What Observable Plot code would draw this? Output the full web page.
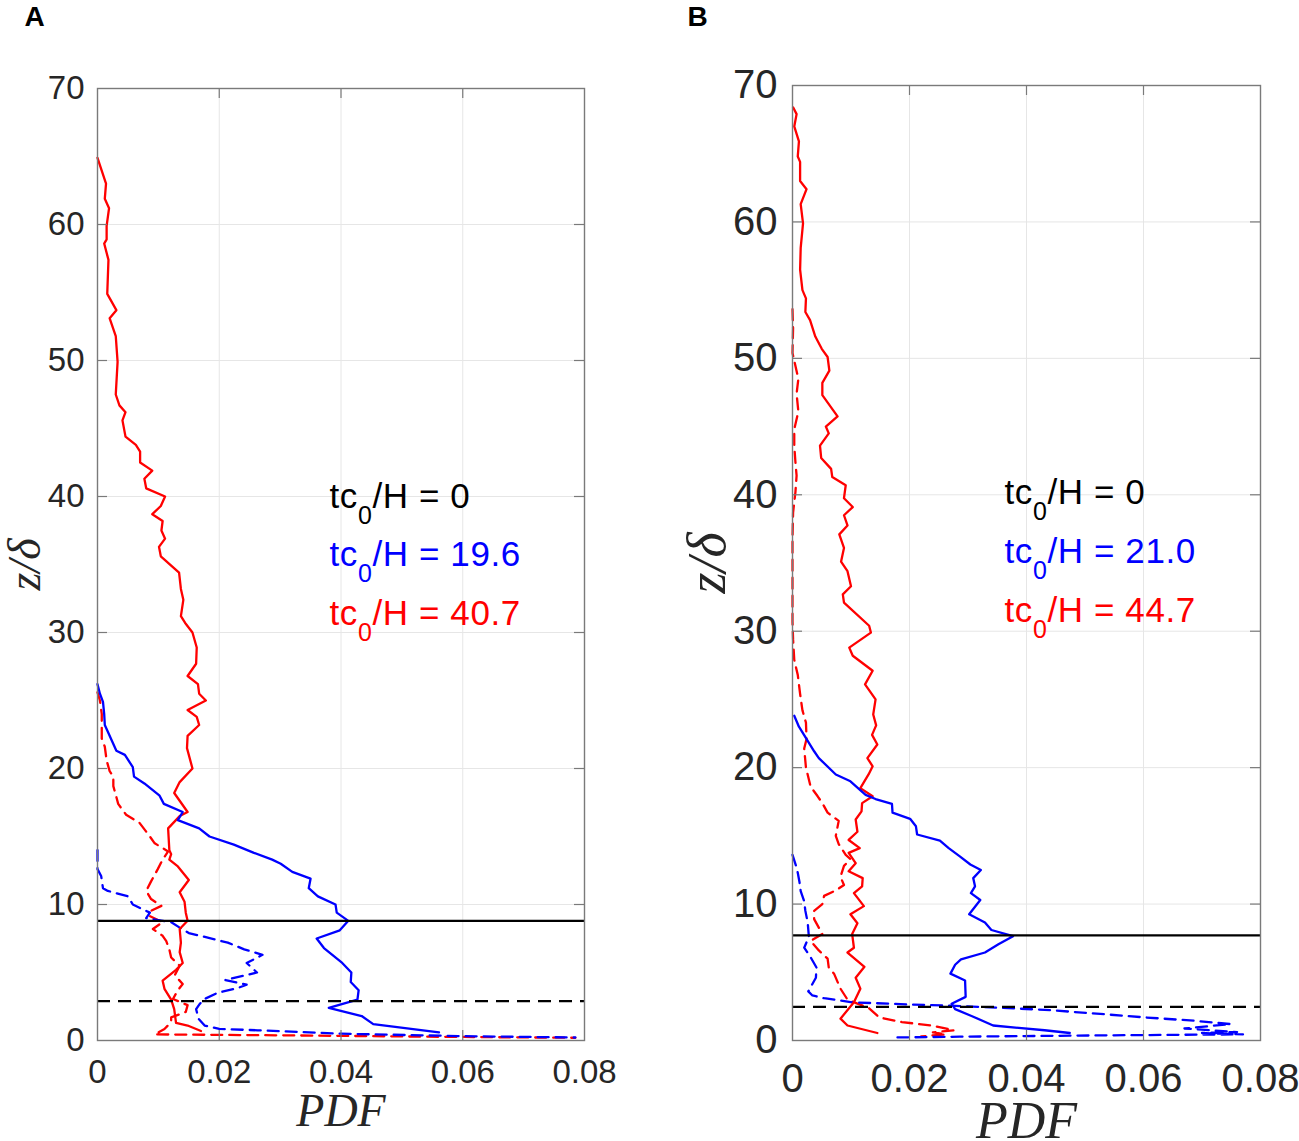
<!DOCTYPE html>
<html><head><meta charset="utf-8">
<script src="https://cdn.jsdelivr.net/npm/d3@7"></script>
<script src="https://cdn.jsdelivr.net/npm/@observablehq/plot@0.6"></script>
<style>
body{margin:0;background:#fff;}
#wrap{position:relative;width:1299px;height:1141px;overflow:hidden;background:#fff;}
#wrap svg{position:absolute;top:0;}
</style></head><body><div id="wrap"></div>
<script>
// ---- axes ----
const xTicks = [0, 0.02, 0.04, 0.06, 0.08];
const xTickLabels = ["0", "0.02", "0.04", "0.06", "0.08"];
const yTicks = [0, 10, 20, 30, 40, 50, 60, 70];
const yTickLabels = ["0", "10", "20", "30", "40", "50", "60", "70"];

// ---- panel A : [PDF, z/delta] ----
const aRedSolid = [[0.0000,64.9],[0.0014,63.0],[0.0012,61.9],[0.0019,61.2],[0.0015,59.9],[0.0015,58.9],[0.0011,58.6],[0.0018,57.4],[0.0016,54.9],[0.0031,53.7],[0.0020,53.1],[0.0030,51.8],[0.0033,49.9],[0.0030,47.5],[0.0036,46.7],[0.0046,46.2],[0.0041,45.6],[0.0046,44.4],[0.0063,43.8],[0.0070,43.3],[0.0070,42.5],[0.0090,41.9],[0.0077,41.3],[0.0080,40.6],[0.0111,40.0],[0.0104,39.3],[0.0090,38.7],[0.0107,38.2],[0.0105,37.5],[0.0111,36.9],[0.0101,36.3],[0.0104,35.6],[0.0134,34.4],[0.0137,33.2],[0.0141,32.4],[0.0137,31.2],[0.0144,30.7],[0.0156,30.0],[0.0163,28.9],[0.0162,27.7],[0.0148,26.8],[0.0165,26.2],[0.0167,25.5],[0.0178,25.0],[0.0148,24.3],[0.0163,23.8],[0.0167,23.2],[0.0148,22.4],[0.0147,21.5],[0.0156,20.0],[0.0135,19.0],[0.0126,18.2],[0.0148,16.8],[0.0135,16.5],[0.0116,15.6],[0.0118,14.0],[0.0121,13.7],[0.0118,13.3],[0.0132,12.8],[0.0150,11.8],[0.0135,10.9],[0.0143,10.2],[0.0145,9.4],[0.0148,8.8],[0.0135,8.2],[0.0137,7.2],[0.0135,6.5],[0.0140,5.7],[0.0129,5.2],[0.0107,4.4],[0.0110,3.8],[0.0121,3.0],[0.0126,2.3],[0.0129,1.3],[0.0148,1.1],[0.0170,0.7]];
const aRedDashed = [[0.0000,25.6],[0.0004,25.0],[0.0007,24.0],[0.0007,23.2],[0.0007,22.2],[0.0012,21.6],[0.0015,20.6],[0.0020,19.8],[0.0026,19.4],[0.0026,18.7],[0.0031,17.9],[0.0034,17.4],[0.0047,16.6],[0.0069,16.0],[0.0086,15.0],[0.0094,14.5],[0.0107,14.15],[0.0116,13.9],[0.0107,13.3],[0.0099,12.6],[0.0088,11.7],[0.0080,11.0],[0.0088,10.4],[0.0105,9.9],[0.0086,9.5],[0.0086,9.15],[0.0107,8.7],[0.0091,8.2],[0.0107,7.7],[0.0113,7.3],[0.0118,6.7],[0.0121,6.1],[0.0135,5.5],[0.0127,4.8],[0.0140,4.15],[0.0132,3.7],[0.0124,3.05],[0.0148,2.6],[0.0145,2.1],[0.0121,1.7],[0.0121,1.35],[0.0110,0.85],[0.0094,0.45],[0.0300,0.38],[0.0600,0.26],[0.0785,0.2]];
const aBlueSolid = [[0.0000,26.2],[0.0004,25.5],[0.0009,24.9],[0.0011,24.0],[0.0012,23.2],[0.0031,21.3],[0.0045,21.0],[0.0058,20.1],[0.0060,19.4],[0.0077,18.9],[0.0102,18.0],[0.0109,17.4],[0.0140,16.8],[0.0132,16.2],[0.0167,15.6],[0.0184,15.0],[0.0224,14.4],[0.0257,13.8],[0.0287,13.3],[0.0301,13.0],[0.0320,12.4],[0.0350,11.9],[0.0347,11.2],[0.0362,10.6],[0.0391,10.0],[0.0393,9.4],[0.0412,8.8],[0.0398,8.1],[0.0360,7.5],[0.0372,6.8],[0.0402,5.7],[0.0417,5.0],[0.0416,4.3],[0.0429,3.7],[0.0427,3.0],[0.0380,2.4],[0.0434,1.8],[0.0453,1.2],[0.0561,0.6]];
const aBlueDashed = [[0.0000,14.0],[0.0000,12.6],[0.0006,12.1],[0.0009,11.2],[0.0017,11.0],[0.0050,10.6],[0.0058,10.0],[0.0086,9.4],[0.0080,9.0],[0.0121,8.7],[0.0135,8.3],[0.0150,7.9],[0.0214,7.2],[0.0241,6.7],[0.0271,6.3],[0.0245,5.7],[0.0262,5.0],[0.0210,4.45],[0.0245,4.1],[0.0230,3.85],[0.0197,3.5],[0.0178,3.1],[0.0168,2.7],[0.0162,2.3],[0.0166,1.6],[0.0176,1.1],[0.0200,0.85],[0.0263,0.75],[0.0400,0.5],[0.0600,0.32],[0.0785,0.22]];
const aSolidLevel = [8.8];
const aDashedLevel = [2.9];
const aLegend = ["tc_0/H = 0", "tc_0/H = 19.6", "tc_0/H = 40.7"];

// ---- panel B : [PDF, z/delta] ----
const bRedSolid = [[0.0001,68.4],[0.0007,67.9],[0.0003,67.0],[0.0011,65.9],[0.0009,64.8],[0.0013,64.4],[0.0013,63.0],[0.0024,62.4],[0.0014,61.3],[0.0018,59.9],[0.0014,58.1],[0.0013,56.5],[0.0017,55.0],[0.0023,54.4],[0.0022,53.4],[0.0030,52.8],[0.0039,51.6],[0.0050,50.7],[0.0060,50.1],[0.0063,49.1],[0.0051,48.2],[0.0051,47.3],[0.0077,45.75],[0.0057,45.0],[0.0062,44.5],[0.0047,43.6],[0.0049,42.7],[0.0066,41.9],[0.0068,41.3],[0.0091,40.7],[0.0088,39.75],[0.0103,39.1],[0.0088,38.5],[0.0094,37.75],[0.0080,37.1],[0.0088,36.1],[0.0083,35.1],[0.0094,34.4],[0.0100,33.3],[0.0086,32.7],[0.0088,32.1],[0.0131,30.4],[0.0134,29.9],[0.0097,28.8],[0.0103,28.2],[0.0137,27.1],[0.0124,26.1],[0.0142,25.0],[0.0138,23.9],[0.0143,23.1],[0.0136,22.4],[0.0145,21.7],[0.0128,20.7],[0.0137,20.1],[0.0130,19.5],[0.0116,18.5],[0.0137,17.9],[0.0119,17.4],[0.0118,16.8],[0.0108,16.2],[0.0111,15.3],[0.0096,14.7],[0.0115,14.1],[0.0096,13.75],[0.0108,13.0],[0.0096,12.4],[0.0120,11.9],[0.0119,11.3],[0.0105,10.8],[0.0122,9.85],[0.0099,9.25],[0.0111,8.6],[0.0102,7.8],[0.0105,6.8],[0.0094,6.45],[0.0123,5.4],[0.0108,4.6],[0.0116,3.8],[0.0105,2.8],[0.0082,1.6],[0.0094,1.1],[0.0145,0.55]];
const bRedDashed = [[0.0000,53.6],[0.0001,52.2],[0.0000,50.4],[0.0010,48.5],[0.0007,47.4],[0.0010,46.1],[0.0003,44.8],[0.0003,43.6],[0.0005,42.4],[0.0007,41.4],[0.0005,40.2],[0.0001,38.7],[0.0000,36.8],[0.0000,35.6],[0.0000,34.1],[0.0000,32.5],[0.0000,30.7],[0.0001,29.4],[0.0003,27.9],[0.0009,26.8],[0.0013,25.4],[0.0017,24.2],[0.0023,23.3],[0.0024,22.1],[0.0020,21.4],[0.0023,20.0],[0.0031,18.6],[0.0043,17.9],[0.0051,17.4],[0.0060,16.7],[0.0079,16.1],[0.0074,15.0],[0.0079,14.4],[0.0091,13.6],[0.0099,13.3],[0.0088,12.8],[0.0082,12.0],[0.0088,11.4],[0.0074,11.0],[0.0054,10.6],[0.0051,10.0],[0.0037,9.5],[0.0037,8.9],[0.0051,7.8],[0.0031,7.3],[0.0045,6.6],[0.0060,6.0],[0.0062,5.35],[0.0071,4.9],[0.0077,4.3],[0.0082,3.8],[0.0094,3.0],[0.0111,2.7],[0.0130,2.4],[0.0148,1.7],[0.0187,1.35],[0.0238,1.1],[0.0276,0.75],[0.0240,0.6],[0.0262,0.45],[0.0220,0.3]];
const bBlueSolid = [[0.0003,23.8],[0.0011,23.0],[0.0037,21.2],[0.0045,20.7],[0.0074,19.5],[0.0099,19.0],[0.0125,18.0],[0.0142,17.7],[0.0170,17.35],[0.0171,16.7],[0.0201,16.25],[0.0211,15.7],[0.0213,15.1],[0.0252,14.65],[0.0267,14.1],[0.0286,13.5],[0.0304,12.9],[0.0322,12.5],[0.0309,11.9],[0.0312,11.3],[0.0305,10.8],[0.0321,10.3],[0.0302,9.25],[0.0329,8.65],[0.0340,8.1],[0.0377,7.65],[0.0352,7.05],[0.0329,6.45],[0.0288,5.95],[0.0278,5.55],[0.0270,4.9],[0.0295,4.4],[0.0296,3.2],[0.0272,2.7],[0.0278,2.3],[0.0306,1.8],[0.0343,1.1],[0.0431,0.75],[0.0474,0.55]];
const bBlueDashed = [[0.0000,13.6],[0.0006,12.8],[0.0009,12.3],[0.0012,11.6],[0.0014,10.95],[0.0020,10.2],[0.0022,9.5],[0.0026,8.65],[0.0028,7.6],[0.0020,6.8],[0.0031,6.1],[0.0041,5.35],[0.0040,4.6],[0.0027,3.6],[0.0034,3.3],[0.0054,3.1],[0.0102,2.8],[0.0204,2.63],[0.0272,2.55],[0.0431,2.25],[0.0526,1.95],[0.0600,1.7],[0.0686,1.45],[0.0749,1.2],[0.0670,0.88],[0.0760,0.62],[0.0700,0.55],[0.0770,0.45],[0.0543,0.38],[0.0286,0.28],[0.0176,0.22]];
const bSolidLevel = [7.7];
const bDashedLevel = [2.47];
const bLegend = ["tc_0/H = 0", "tc_0/H = 21.0", "tc_0/H = 44.7"];

const legendColors = ["#000000", "#0000ff", "#ff0000"];
const RED = "#ff0000", BLUE = "#0000ff";
const AXC = "#262626", BOXC = "#7a7a7a", GRIDC = "#e6e6e6";

function makePanel(cfg) {
  const innerW = cfg.width - cfg.mL - cfg.mR;
  const innerH = cfg.height - cfg.mT - cfg.mB;
  const tl = 10;
  const xi = xTicks.slice(1, -1), yi = yTicks.slice(1, -1);
  const xy = {x: d => d[0], y: d => d[1]};
  const LW = 2.3;
  const marks = [
    Plot.ruleX(xi, {x: d => d, stroke: GRIDC, strokeWidth: 1}),
    Plot.ruleY(yi, {y: d => d, stroke: GRIDC, strokeWidth: 1}),
    Plot.line(cfg.redDashed, {...xy, stroke: RED, strokeWidth: LW, strokeDasharray: "11,7"}),
    Plot.line(cfg.blueDashed, {...xy, stroke: BLUE, strokeWidth: LW, strokeDasharray: "11,7"}),
    Plot.line(cfg.redSolid, {...xy, stroke: RED, strokeWidth: LW}),
    Plot.line(cfg.blueSolid, {...xy, stroke: BLUE, strokeWidth: LW}),
    Plot.ruleY(cfg.solidLevel, {y: d => d, stroke: "#000", strokeWidth: 2.2}),
    Plot.ruleY(cfg.dashedLevel, {y: d => d, stroke: "#000", strokeWidth: 2.2, strokeDasharray: "13,8"}),
    Plot.ruleX(xi, {x: d => d, insetTop: innerH - tl, stroke: BOXC, strokeWidth: 1.2}),
    Plot.ruleX(xi, {x: d => d, insetBottom: innerH - tl, stroke: BOXC, strokeWidth: 1.2}),
    Plot.ruleY(yi, {y: d => d, insetRight: innerW - tl, stroke: BOXC, strokeWidth: 1.2}),
    Plot.ruleY(yi, {y: d => d, insetLeft: innerW - tl, stroke: BOXC, strokeWidth: 1.2}),
    Plot.frame({stroke: BOXC, strokeWidth: 1.4}),
    Plot.axisX({ticks: xTicks, tickFormat: d => xTickLabels[xTicks.indexOf(d)], tickSize: 0, tickPadding: cfg.xPad, fontSize: cfg.tickFont, fontFamily: "Liberation Sans", color: AXC, label: null}),
    Plot.axisY({ticks: yTicks, tickFormat: d => yTickLabels[yTicks.indexOf(d)], tickSize: 0, tickPadding: cfg.yPad, fontSize: cfg.tickFont, fontFamily: "Liberation Sans", color: AXC, label: null}),
    Plot.text(["PDF"], {text: d => d, frameAnchor: "bottom", dy: cfg.pdfDy, textAnchor: "middle", lineAnchor: "middle", fontSize: cfg.pdfSize, fontStyle: "italic", fontFamily: "Liberation Serif", fill: AXC}),
    Plot.text(["z/δ"], {text: d => d, frameAnchor: "left", dx: cfg.zDx, rotate: -90, textAnchor: "middle", lineAnchor: "middle", fontSize: cfg.zSize, fontStyle: "italic", fontFamily: "Liberation Serif", fill: AXC}),
    Plot.text([cfg.letter], {text: d => d, frameAnchor: "top-left", dx: cfg.letterDx, dy: cfg.letterDy, textAnchor: "start", lineAnchor: "bottom", fontSize: 28, fontWeight: "bold", fontFamily: "Liberation Sans", fill: "#000"}),
    ...cfg.legend.map((s, i) => Plot.text([s], {text: d => d, frameAnchor: "top-left", dx: cfg.legDx, dy: cfg.legDy[i], textAnchor: "start", lineAnchor: "bottom", fontSize: 35, fontFamily: "Liberation Sans", fill: legendColors[i]}))
  ];
  const svg = Plot.plot({
    width: cfg.width, height: cfg.height,
    marginLeft: cfg.mL, marginRight: cfg.mR, marginTop: cfg.mT, marginBottom: cfg.mB,
    x: {domain: [0, 0.08]},
    y: {domain: [0, 70]},
    style: {background: "transparent", fontFamily: "Liberation Sans", overflow: "visible"},
    marks
  });
  // TeX-like subscript: "tc_0/H" -> tc with lowered 0
  svg.querySelectorAll("text").forEach(t => {
    const s = t.textContent;
    if (!s.includes("_")) return;
    const [pre, rest] = s.split("_");
    t.textContent = "";
    t.style.letterSpacing = "0.6px";
    const add = (txt, attrs) => {
      const ts = document.createElementNS("http://www.w3.org/2000/svg", "tspan");
      ts.textContent = txt;
      for (const k in attrs) ts.setAttribute(k, attrs[k]);
      t.appendChild(ts);
    };
    add(pre, {});
    add(rest[0], {"font-size": 25, dy: 16});
    add(rest.slice(1), {dy: -16});
  });
  svg.style.left = cfg.left + "px";
  return svg;
}

const wrap = document.getElementById("wrap");
wrap.appendChild(makePanel({
  left: 0, width: 650, height: 1141, mL: 97, mR: 66, mT: 88, mB: 101,
  tickFont: 33, xPad: 19, yPad: 13,
  pdfDy: 71, pdfSize: 46, zDx: -72, zSize: 46,
  letter: "A", letterDx: -73, letterDy: -63,
  legend: aLegend, legDx: 232, legDy: [419, 477, 536],
  redSolid: aRedSolid, redDashed: aRedDashed, blueSolid: aBlueSolid, blueDashed: aBlueDashed,
  solidLevel: aSolidLevel, dashedLevel: aDashedLevel
}));
wrap.appendChild(makePanel({
  left: 650, width: 649, height: 1141, mL: 142, mR: 39, mT: 85, mB: 101,
  tickFont: 40, xPad: 23, yPad: 15,
  pdfDy: 81, pdfSize: 52, zDx: -85, zSize: 54,
  letter: "B", letterDx: -105, letterDy: -60,
  legend: bLegend, legDx: 212, legDy: [418, 477, 536],
  redSolid: bRedSolid, redDashed: bRedDashed, blueSolid: bBlueSolid, blueDashed: bBlueDashed,
  solidLevel: bSolidLevel, dashedLevel: bDashedLevel
}));
</script>
</body></html>
